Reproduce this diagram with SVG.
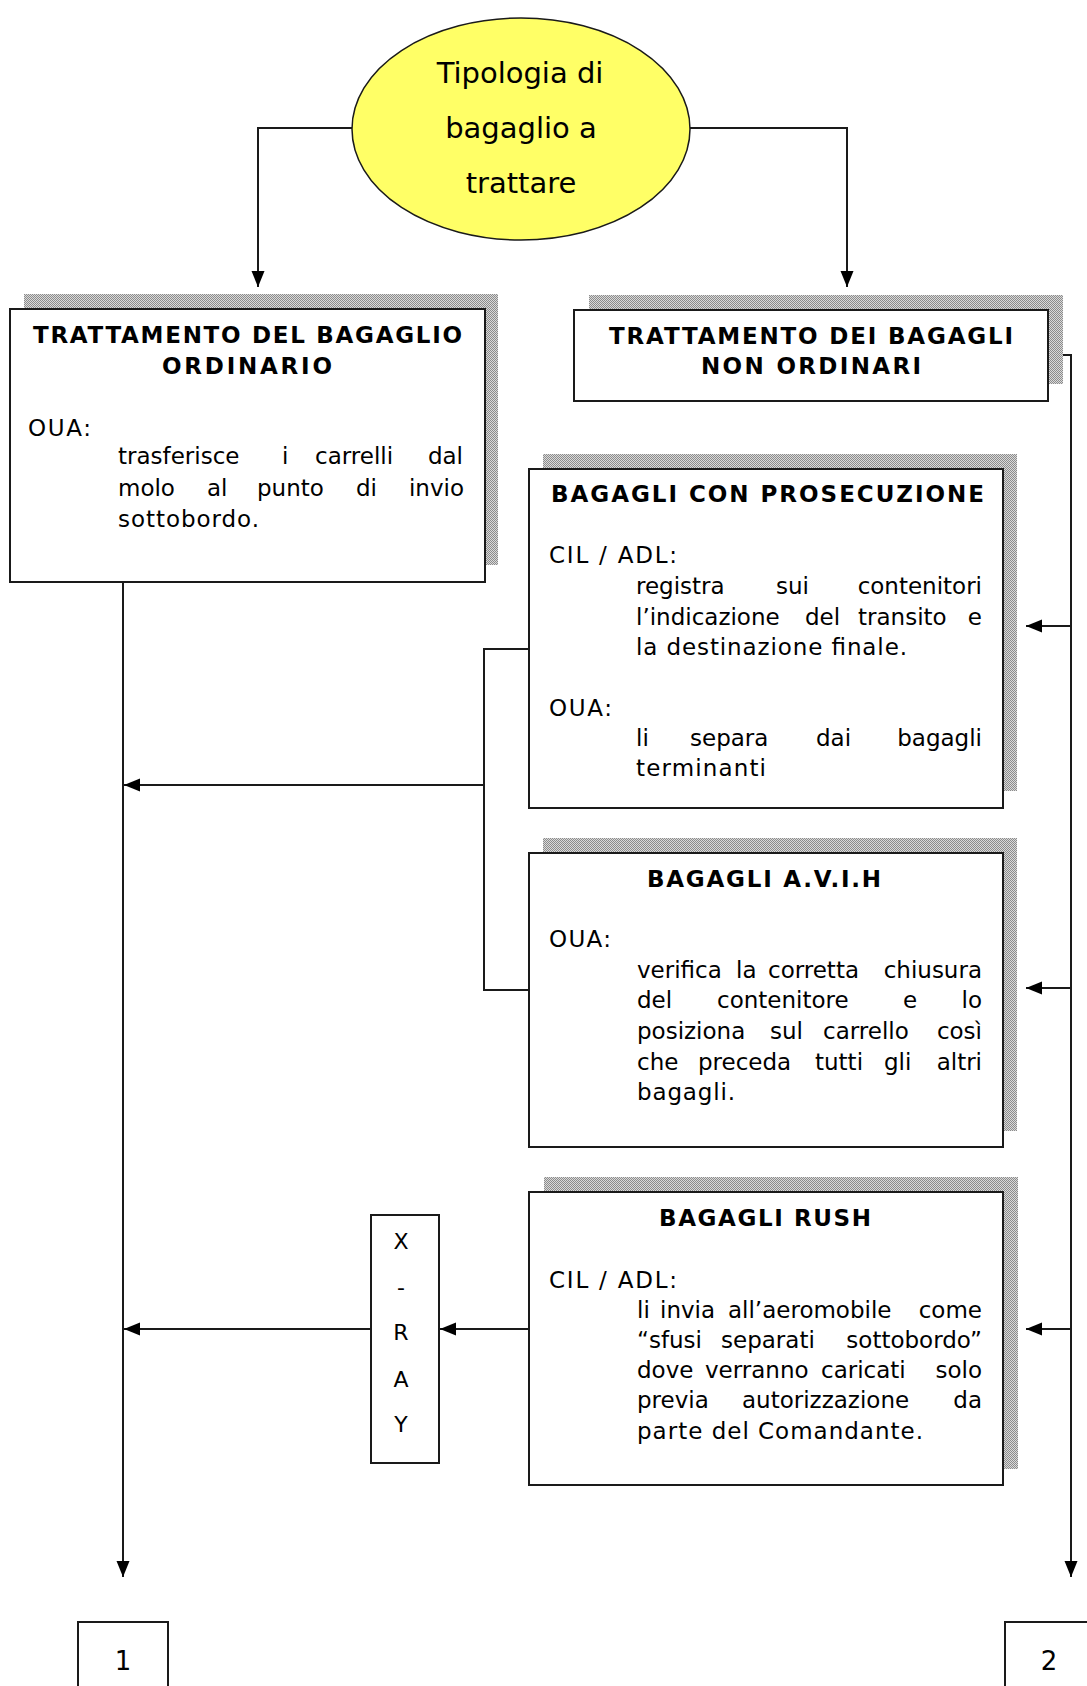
<svg xmlns="http://www.w3.org/2000/svg" width="1087" height="1686" viewBox="0 0 1087 1686">
  <defs>
    <!-- dotted grey fill used for the offset drop shadows -->
    <pattern id="dots" width="2" height="2" patternUnits="userSpaceOnUse">
      <rect width="2" height="2" fill="#dadada"/>
      <rect width="1" height="1" fill="#8c8c8c"/>
      <rect x="1" y="1" width="1" height="1" fill="#8c8c8c"/>
    </pattern>
    <marker id="arrow" viewBox="0 0 16 14" refX="16" refY="7" markerWidth="16" markerHeight="14" markerUnits="userSpaceOnUse" orient="auto">
      <path d="M0,0.5 L16,7 L0,13.5 z" fill="#000"/>
    </marker>
  </defs>
  <style>
    .shadow { fill: url(#dots); }
    .box { fill: #fff; stroke: #1a1a1a; stroke-width: 2; }
    .t { font-family: "DejaVu Sans", Verdana, sans-serif; font-size: 23px; fill: #000; }
    .r { text-anchor: end; }
    .h { font-family: "DejaVu Sans", Verdana, sans-serif; font-size: 23px; font-weight: bold; fill: #000; }
    .c { font-family: "DejaVu Sans", Verdana, sans-serif; fill: #000; text-anchor: middle; }
    .line { fill: none; stroke: #1a1a1a; stroke-width: 2; }
  </style>

  <rect width="1087" height="1686" fill="#fff"/>

  <!-- connectors -->
  <g id="connectors">
    <path class="line" d="M352,128 H258 V287" marker-end="url(#arrow)"/>
    <path class="line" d="M690,128 H847 V287" marker-end="url(#arrow)"/>
    <path class="line" d="M123,582 V1577" marker-end="url(#arrow)"/>
    <path class="line" d="M1048,355 H1071 V1577" marker-end="url(#arrow)"/>
    <path class="line" d="M1071,626 H1026" marker-end="url(#arrow)"/>
    <path class="line" d="M1071,988 H1026" marker-end="url(#arrow)"/>
    <path class="line" d="M1071,1329 H1026" marker-end="url(#arrow)"/>
    <path class="line" d="M529,649 H484 V990 H529"/>
    <path class="line" d="M484,785 H124" marker-end="url(#arrow)"/>
    <path class="line" d="M529,1329 H440" marker-end="url(#arrow)"/>
    <path class="line" d="M371,1329 H124" marker-end="url(#arrow)"/>
  </g>

  <!-- start node -->
  <g id="tipologia">
    <ellipse cx="521" cy="129" rx="169" ry="111" fill="#ffff66" stroke="#1a1a1a" stroke-width="1.5"/>
    <text class="c" font-size="29" x="520" y="83">Tipologia di</text>
    <text class="c" font-size="29" x="521" y="138">bagaglio a</text>
    <text class="c" font-size="29" x="521" y="193">trattare</text>
  </g>

  <!-- ordinary baggage -->
  <g id="ordinario">
    <rect class="shadow" x="24" y="294" width="474" height="271"/>
    <rect class="box" x="10" y="309" width="475" height="273"/>
    <text class="h" x="33" y="343" textLength="429" lengthAdjust="spacing">TRATTAMENTO DEL BAGAGLIO</text>
    <text class="h" x="162" y="374" textLength="170" lengthAdjust="spacing">ORDINARIO</text>
    <text class="t" x="28" y="436" textLength="63" lengthAdjust="spacing">OUA:</text>
    <text class="t" y="464"><tspan x="118">trasferisce</tspan><tspan x="282">i</tspan><tspan x="315">carrelli</tspan></text>
    <text class="t r" x="463" y="464">dal</text>
    <text class="t" y="496"><tspan x="118">molo</tspan><tspan x="207">al</tspan><tspan x="257">punto</tspan><tspan x="356">di</tspan></text>
    <text class="t r" x="464" y="496">invio</text>
    <text class="t" x="118" y="527" textLength="141" lengthAdjust="spacing">sottobordo.</text>
  </g>

  <!-- non-ordinary baggage -->
  <g id="non-ordinari">
    <rect class="shadow" x="589" y="295" width="474" height="89"/>
    <rect class="box" x="574" y="310" width="474" height="91"/>
    <text class="h" x="609" y="344" textLength="404" lengthAdjust="spacing">TRATTAMENTO DEI BAGAGLI</text>
    <text class="h" x="701" y="374" textLength="220" lengthAdjust="spacing">NON ORDINARI</text>
  </g>

  <!-- transfer baggage -->
  <g id="prosecuzione">
    <rect class="shadow" x="543" y="454" width="474" height="337"/>
    <rect class="box" x="529" y="469" width="474" height="339"/>
    <text class="h" x="551" y="502" textLength="433" lengthAdjust="spacing">BAGAGLI CON PROSECUZIONE</text>
    <text class="t" x="549" y="563" textLength="128" lengthAdjust="spacing">CIL / ADL:</text>
    <text class="t" y="594"><tspan x="636">registra</tspan><tspan x="776">sui</tspan></text>
    <text class="t r" x="982" y="594">contenitori</text>
    <text class="t" y="625"><tspan x="636">l’indicazione</tspan><tspan x="805">del</tspan><tspan x="858">transito</tspan></text>
    <text class="t r" x="982" y="625">e</text>
    <text class="t" x="636" y="655" textLength="271" lengthAdjust="spacing">la destinazione finale.</text>
    <text class="t" x="549" y="716" textLength="63" lengthAdjust="spacing">OUA:</text>
    <text class="t" y="746"><tspan x="636">li</tspan><tspan x="690">separa</tspan><tspan x="816">dai</tspan></text>
    <text class="t r" x="982" y="746">bagagli</text>
    <text class="t" x="636" y="776" textLength="130" lengthAdjust="spacing">terminanti</text>
  </g>

  <!-- AVIH baggage -->
  <g id="avih">
    <rect class="shadow" x="543" y="838" width="474" height="293"/>
    <rect class="box" x="529" y="853" width="474" height="294"/>
    <text class="h" x="647" y="887" textLength="234" lengthAdjust="spacing">BAGAGLI A.V.I.H</text>
    <text class="t" x="549" y="947" textLength="62" lengthAdjust="spacing">OUA:</text>
    <text class="t" y="978"><tspan x="637">verifica</tspan><tspan x="736">la</tspan><tspan x="768">corretta</tspan></text>
    <text class="t r" x="982" y="978">chiusura</text>
    <text class="t" y="1008"><tspan x="637">del</tspan><tspan x="717">contenitore</tspan><tspan x="903">e</tspan></text>
    <text class="t r" x="982" y="1008">lo</text>
    <text class="t" y="1039"><tspan x="637">posiziona</tspan><tspan x="770">sul</tspan><tspan x="823">carrello</tspan></text>
    <text class="t r" x="982" y="1039">così</text>
    <text class="t" y="1070"><tspan x="637">che</tspan><tspan x="698">preceda</tspan><tspan x="815">tutti</tspan><tspan x="884">gli</tspan></text>
    <text class="t r" x="982" y="1070">altri</text>
    <text class="t" x="637" y="1100" textLength="98" lengthAdjust="spacing">bagagli.</text>
  </g>

  <!-- rush baggage -->
  <g id="rush">
    <rect class="shadow" x="544" y="1177" width="474" height="292"/>
    <rect class="box" x="529" y="1192" width="474" height="293"/>
    <text class="h" x="659" y="1226" textLength="212" lengthAdjust="spacing">BAGAGLI RUSH</text>
    <text class="t" x="549" y="1288" textLength="128" lengthAdjust="spacing">CIL / ADL:</text>
    <text class="t" y="1318"><tspan x="637">li</tspan><tspan x="660">invia</tspan><tspan x="728">all’aeromobile</tspan></text>
    <text class="t r" x="982" y="1318">come</text>
    <text class="t" y="1348"><tspan x="637">“sfusi</tspan><tspan x="721">separati</tspan></text>
    <text class="t r" x="982" y="1348">sottobordo”</text>
    <text class="t" y="1378"><tspan x="637">dove</tspan><tspan x="705">verranno</tspan><tspan x="821">caricati</tspan></text>
    <text class="t r" x="982" y="1378">solo</text>
    <text class="t" y="1408"><tspan x="637">previa</tspan><tspan x="742">autorizzazione</tspan></text>
    <text class="t r" x="982" y="1408">da</text>
    <text class="t" x="637" y="1439" textLength="286" lengthAdjust="spacing">parte del Comandante.</text>
  </g>

  <!-- x-ray check -->
  <g id="xray">
    <rect class="box" x="371" y="1215" width="68" height="248"/>
    <text class="c" font-size="22" x="401" y="1249">X</text>
    <text class="c" font-size="22" x="401" y="1295">-</text>
    <text class="c" font-size="22" x="401" y="1340">R</text>
    <text class="c" font-size="22" x="401" y="1387">A</text>
    <text class="c" font-size="22" x="401" y="1432">Y</text>
  </g>

  <!-- page connectors -->
  <g id="ref-1">
    <rect class="box" x="78" y="1622" width="90" height="90"/>
    <text class="c" font-size="26" x="123" y="1670">1</text>
  </g>
  <g id="ref-2">
    <rect class="box" x="1005" y="1622" width="100" height="90"/>
    <text class="c" font-size="26" x="1049" y="1670">2</text>
  </g>
</svg>
